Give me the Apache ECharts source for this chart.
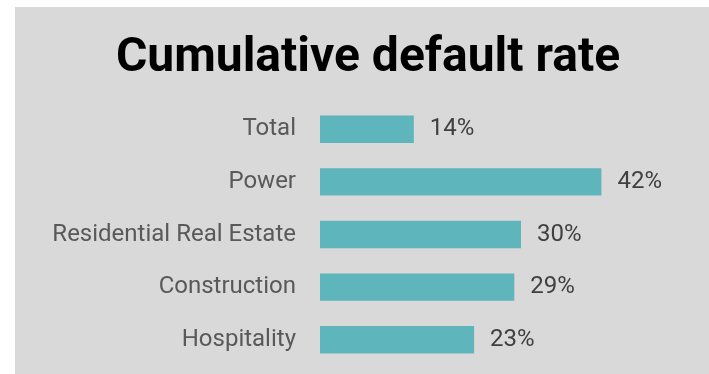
<!DOCTYPE html>
<html>
<head>
<meta charset="utf-8">
<script src="https://cdn.jsdelivr.net/npm/echarts@6/dist/echarts.min.js"></script>
<style>
  html, body { margin: 0; padding: 0; background: #ffffff; }
  #chart { width: 709px; height: 374px; }
</style>
</head>
<body>
<div id="chart"></div>
<script>
// Sector names, top to bottom
const categories = ['Total', 'Power', 'Residential Real Estate', 'Construction', 'Hospitality'];
// Cumulative default rate per sector, in percent
const rates = [14, 42, 30, 29, 23];

const chart = echarts.init(document.getElementById('chart'), null, { renderer: 'canvas' });

chart.setOption({
  animation: false,
  backgroundColor: '#ffffff',
  graphic: [{
    type: 'rect',
    z: -10,
    silent: true,
    shape: { x: 15, y: 7, width: 709, height: 380 },
    style: { fill: '#d9d9d9' }
  }],
  title: {
    text: 'Cumulative default rate',
    left: 363,
    textAlign: 'center',
    top: 30,
    textStyle: {
      fontFamily: 'Roboto',
      fontWeight: 'bold',
      fontSize: 48,
      color: '#000000'
    }
  },
  grid: {
    left: 320,
    right: 54,
    top: 103,
    bottom: 8,
    containLabel: false
  },
  xAxis: {
    type: 'value',
    min: 0,
    max: 50,
    show: false
  },
  yAxis: {
    type: 'category',
    data: categories,
    inverse: true,
    axisLine: { show: false },
    axisTick: { show: false },
    splitLine: { show: false },
    axisLabel: {
      margin: 24,
      fontFamily: 'Roboto',
      fontSize: 24,
      color: '#595959',
      padding: [3, 0, 0, 0]
    }
  },
  series: [{
    type: 'bar',
    data: rates,
    barWidth: '52%',
    itemStyle: { color: '#5eb5bc' },
    label: {
      show: true,
      position: 'right',
      distance: 16,
      formatter: '{c}%',
      fontFamily: 'Roboto',
      fontSize: 24,
      color: '#404040',
      padding: [4, 0, 0, 0]
    }
  }]
});
</script>
</body>
</html>
